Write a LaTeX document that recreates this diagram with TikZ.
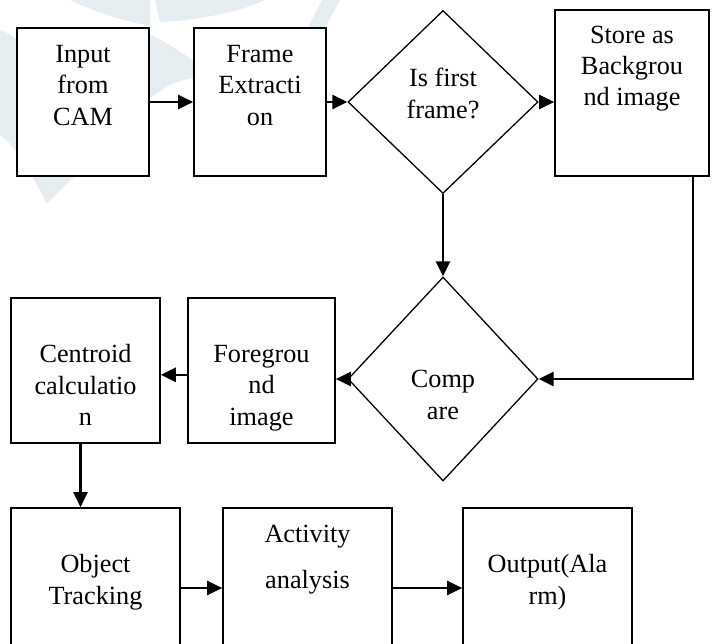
\documentclass[tikz,border=0pt]{standalone}
\usepackage{fontspec}
\setmainfont{Liberation Serif}
\usetikzlibrary{positioning,shapes.geometric,arrows.meta}
\definecolor{wmark}{HTML}{E6EDF0}

\begin{document}
\begin{tikzpicture}[
  every node/.style={font=\fontsize{22.4}{26.8}\selectfont, align=center},
  box/.style 2 args={draw, line width=1.4pt, fill=white, minimum width=#1, minimum height=#2, inner sep=0pt},
  decision/.style 2 args={diamond, draw, line width=1.1pt, fill=white, minimum width=#1, minimum height=#2, inner sep=0pt},
  txt/.style={inner sep=0pt},
  arrow/.style={-{Triangle[length=0.45cm,width=0.42cm]}, line width=2.2pt}
]
\useasboundingbox (0,0) rectangle (21.36,-19.32);
\clip (0,0) rectangle (21.36,-19.32);

% faint watermark behind the chart
\begin{scope}[x=0.03cm, y=-0.03cm]
\fill[wmark] (0,30) .. controls (30,40) and (60,90) .. (75,176) -- (47,204) .. controls (30,170) and (10,140) .. (0,135) -- cycle;
\fill[wmark] (140,30) .. controls (165,40) and (185,55) .. (195,62) -- (195,78) .. controls (175,80) and (160,90) .. (148,100) -- cycle;
\fill[wmark] (70,0) -- (150,0) -- (150,26) .. controls (120,20) and (95,12) .. (70,0) -- cycle;
\fill[wmark] (155,0) -- (265,0) .. controls (240,12) and (200,20) .. (160,22) -- cycle;
\fill[wmark] (305,33) -- (322,0) -- (340,0) -- (322,33) -- cycle;
\end{scope}

% first row
\node[box={3.96cm}{4.44cm}] (in) at (2.49,-3.06) {};
\node[box={3.96cm}{4.44cm}] (fe) at (7.8,-3.06) {};
\node[decision={5.7cm}{5.49cm}] (first) at (13.29,-3.06) {};
\node[box={4.62cm}{4.98cm}] (bg) at (18.96,-2.79) {};

% second row
\node[decision={5.7cm}{6.12cm}] (cmp) at (13.29,-11.37) {};
\node[box={4.41cm}{4.35cm}] (fg) at (7.845,-11.115) {};
\node[box={4.47cm}{4.35cm}] (cc) at (2.565,-11.115) {};

% third row
\node[box={5.07cm}{4.8cm}] (ot) at (2.865,-17.64) {};
\node[box={5.07cm}{4.8cm}] (ac) at (9.225,-17.64) {};
\node[box={5.07cm}{4.8cm}] (op) at (16.425,-17.64) {};

% texts
\node[txt, below=0.54cm of in.north] (in-t) {Input\\from\\CAM};
\node[txt, below=0.54cm of fe.north] (fe-t) {Frame\\Extracti\\on};
\node[txt, anchor=north] (first-t) at ([yshift=1.02cm]first.center) {Is first\\frame?};
\node[txt, below=0.49cm of bg.north] (bg-t) {Store as\\Backgrou\\nd image};
\node[txt, anchor=north] (cmp-t) at ([yshift=0.26cm]cmp.center) {Comp\\are};
\node[txt, below=1.43cm of fg.north] (fg-t) {Foregrou\\nd\\image};
\node[txt, below=1.41cm of cc.north] (cc-t) {Centroid\\calculatio\\n};
\node[txt, below=1.42cm of ot.north] (ot-t) {Object\\Tracking};
\node[txt, below=0.52cm of ac.north] (ac-t) {Activity\\[0.46cm]analysis};
\node[txt, below=1.41cm of op.north] (op-t) {Output(Ala\\rm)};

% connectors
\coordinate (bgout) at ([xshift=1.83cm]bg.south);
\coordinate (ccout) at ([xshift=-0.15cm]cc.south);
\draw[arrow] (in.east) -- (fe.west);
\draw[arrow] (fe.east) -- (first.west);
\draw[arrow] (first.east) -- (first.east -| bg.west);
\draw[arrow] (first.south) -- (cmp.north);
\draw[arrow] (bgout) |- (cmp.east);
\draw[arrow] (cmp.west) -- (cmp.west -| fg.east);
\draw[arrow] ([yshift=-0.13cm]fg.west) -- ([yshift=-0.13cm]cc.east);
\draw[arrow] (ccout) -- (ccout |- ot.north);
\draw[arrow] (ot.east) -- (ac.west);
\draw[arrow] (ac.east) -- (op.west);

\end{tikzpicture}
\end{document}
